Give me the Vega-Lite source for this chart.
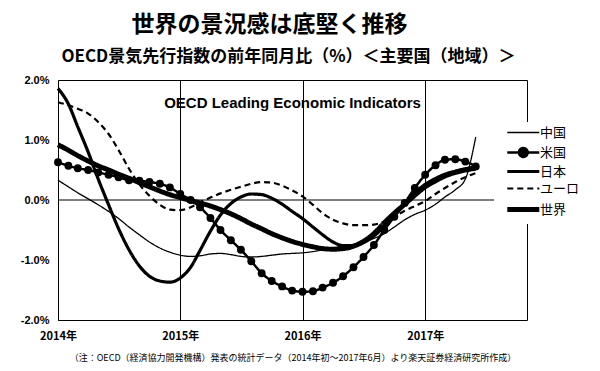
{
  "$schema": "https://vega.github.io/schema/vega-lite/v6.json",
  "width": 469,
  "height": 240,
  "autosize": {"type": "none"},
  "padding": {"left": 58, "top": 80, "right": 73, "bottom": 51},
  "background": "white",
  "config": {"view": {"stroke": "black", "strokeWidth": 1}},
  "title": {
    "text": "世界の景況感は底堅く推移",
    "anchor": "middle",
    "dx": -23,
    "font": "Noto Sans CJK JP",
    "fontSize": 23,
    "fontWeight": "bold",
    "color": "black",
    "offset": 10
  },
  "data": {"values": [
    {"date":"2014-01-01","country":"中国","value":0.33},{"date":"2014-02-01","country":"中国","value":0.22},{"date":"2014-03-01","country":"中国","value":0.12},{"date":"2014-04-01","country":"中国","value":0.02},{"date":"2014-05-01","country":"中国","value":-0.08},{"date":"2014-06-01","country":"中国","value":-0.19},{"date":"2014-07-01","country":"中国","value":-0.31},{"date":"2014-08-01","country":"中国","value":-0.45},{"date":"2014-09-01","country":"中国","value":-0.58},{"date":"2014-10-01","country":"中国","value":-0.7},{"date":"2014-11-01","country":"中国","value":-0.8},{"date":"2014-12-01","country":"中国","value":-0.87},
    {"date":"2015-01-01","country":"中国","value":-0.92},{"date":"2015-02-01","country":"中国","value":-0.94},{"date":"2015-03-01","country":"中国","value":-0.93},{"date":"2015-04-01","country":"中国","value":-0.9},{"date":"2015-05-01","country":"中国","value":-0.89},{"date":"2015-06-01","country":"中国","value":-0.91},{"date":"2015-07-01","country":"中国","value":-0.94},{"date":"2015-08-01","country":"中国","value":-0.95},{"date":"2015-09-01","country":"中国","value":-0.94},{"date":"2015-10-01","country":"中国","value":-0.92},{"date":"2015-11-01","country":"中国","value":-0.9},{"date":"2015-12-01","country":"中国","value":-0.89},
    {"date":"2016-01-01","country":"中国","value":-0.88},{"date":"2016-02-01","country":"中国","value":-0.86},{"date":"2016-03-01","country":"中国","value":-0.83},{"date":"2016-04-01","country":"中国","value":-0.8},{"date":"2016-05-01","country":"中国","value":-0.77},{"date":"2016-06-01","country":"中国","value":-0.74},{"date":"2016-07-01","country":"中国","value":-0.7},{"date":"2016-08-01","country":"中国","value":-0.64},{"date":"2016-09-01","country":"中国","value":-0.56},{"date":"2016-10-01","country":"中国","value":-0.45},{"date":"2016-11-01","country":"中国","value":-0.33},{"date":"2016-12-01","country":"中国","value":-0.24},
    {"date":"2017-01-01","country":"中国","value":-0.17},{"date":"2017-02-01","country":"中国","value":-0.07},{"date":"2017-03-01","country":"中国","value":0.05},{"date":"2017-04-01","country":"中国","value":0.17},{"date":"2017-05-01","country":"中国","value":0.35},{"date":"2017-06-01","country":"中国","value":1.05},
    {"date":"2014-01-01","country":"米国","value":0.63},{"date":"2014-02-01","country":"米国","value":0.57},{"date":"2014-03-01","country":"米国","value":0.53},{"date":"2014-04-01","country":"米国","value":0.5},{"date":"2014-05-01","country":"米国","value":0.46},{"date":"2014-06-01","country":"米国","value":0.42},{"date":"2014-07-01","country":"米国","value":0.38},{"date":"2014-08-01","country":"米国","value":0.33},{"date":"2014-09-01","country":"米国","value":0.32},{"date":"2014-10-01","country":"米国","value":0.3},{"date":"2014-11-01","country":"米国","value":0.27},{"date":"2014-12-01","country":"米国","value":0.21},
    {"date":"2015-01-01","country":"米国","value":0.1},{"date":"2015-02-01","country":"米国","value":0.0},{"date":"2015-03-01","country":"米国","value":-0.12},{"date":"2015-04-01","country":"米国","value":-0.3},{"date":"2015-05-01","country":"米国","value":-0.5},{"date":"2015-06-01","country":"米国","value":-0.67},{"date":"2015-07-01","country":"米国","value":-0.83},{"date":"2015-08-01","country":"米国","value":-1.02},{"date":"2015-09-01","country":"米国","value":-1.22},{"date":"2015-10-01","country":"米国","value":-1.35},{"date":"2015-11-01","country":"米国","value":-1.44},{"date":"2015-12-01","country":"米国","value":-1.51},
    {"date":"2016-01-01","country":"米国","value":-1.53},{"date":"2016-02-01","country":"米国","value":-1.52},{"date":"2016-03-01","country":"米国","value":-1.46},{"date":"2016-04-01","country":"米国","value":-1.38},{"date":"2016-05-01","country":"米国","value":-1.27},{"date":"2016-06-01","country":"米国","value":-1.12},{"date":"2016-07-01","country":"米国","value":-0.95},{"date":"2016-08-01","country":"米国","value":-0.75},{"date":"2016-09-01","country":"米国","value":-0.5},{"date":"2016-10-01","country":"米国","value":-0.28},{"date":"2016-11-01","country":"米国","value":-0.05},{"date":"2016-12-01","country":"米国","value":0.2},
    {"date":"2017-01-01","country":"米国","value":0.42},{"date":"2017-02-01","country":"米国","value":0.58},{"date":"2017-03-01","country":"米国","value":0.67},{"date":"2017-04-01","country":"米国","value":0.68},{"date":"2017-05-01","country":"米国","value":0.64},{"date":"2017-06-01","country":"米国","value":0.56},
    {"date":"2014-01-01","country":"日本","value":1.86},{"date":"2014-02-01","country":"日本","value":1.6},{"date":"2014-03-01","country":"日本","value":1.22},{"date":"2014-04-01","country":"日本","value":0.8},{"date":"2014-05-01","country":"日本","value":0.35},{"date":"2014-06-01","country":"日本","value":-0.08},{"date":"2014-07-01","country":"日本","value":-0.48},{"date":"2014-08-01","country":"日本","value":-0.83},{"date":"2014-09-01","country":"日本","value":-1.1},{"date":"2014-10-01","country":"日本","value":-1.27},{"date":"2014-11-01","country":"日本","value":-1.35},{"date":"2014-12-01","country":"日本","value":-1.37},
    {"date":"2015-01-01","country":"日本","value":-1.3},{"date":"2015-02-01","country":"日本","value":-1.12},{"date":"2015-03-01","country":"日本","value":-0.84},{"date":"2015-04-01","country":"日本","value":-0.52},{"date":"2015-05-01","country":"日本","value":-0.25},{"date":"2015-06-01","country":"日本","value":-0.06},{"date":"2015-07-01","country":"日本","value":0.05},{"date":"2015-08-01","country":"日本","value":0.1},{"date":"2015-09-01","country":"日本","value":0.09},{"date":"2015-10-01","country":"日本","value":0.03},{"date":"2015-11-01","country":"日本","value":-0.07},{"date":"2015-12-01","country":"日本","value":-0.19},
    {"date":"2016-01-01","country":"日本","value":-0.31},{"date":"2016-02-01","country":"日本","value":-0.45},{"date":"2016-03-01","country":"日本","value":-0.58},{"date":"2016-04-01","country":"日本","value":-0.7},{"date":"2016-05-01","country":"日本","value":-0.76},{"date":"2016-06-01","country":"日本","value":-0.76},{"date":"2016-07-01","country":"日本","value":-0.71},{"date":"2016-08-01","country":"日本","value":-0.6},{"date":"2016-09-01","country":"日本","value":-0.44},{"date":"2016-10-01","country":"日本","value":-0.26},{"date":"2016-11-01","country":"日本","value":-0.07},{"date":"2016-12-01","country":"日本","value":0.12},
    {"date":"2017-01-01","country":"日本","value":0.26},{"date":"2017-02-01","country":"日本","value":0.36},{"date":"2017-03-01","country":"日本","value":0.43},{"date":"2017-04-01","country":"日本","value":0.48},{"date":"2017-05-01","country":"日本","value":0.52},{"date":"2017-06-01","country":"日本","value":0.55},
    {"date":"2014-01-01","country":"ユーロ","value":1.63},{"date":"2014-02-01","country":"ユーロ","value":1.58},{"date":"2014-03-01","country":"ユーロ","value":1.52},{"date":"2014-04-01","country":"ユーロ","value":1.44},{"date":"2014-05-01","country":"ユーロ","value":1.3},{"date":"2014-06-01","country":"ユーロ","value":1.1},{"date":"2014-07-01","country":"ユーロ","value":0.83},{"date":"2014-08-01","country":"ユーロ","value":0.52},{"date":"2014-09-01","country":"ユーロ","value":0.26},{"date":"2014-10-01","country":"ユーロ","value":0.07},{"date":"2014-11-01","country":"ユーロ","value":-0.08},{"date":"2014-12-01","country":"ユーロ","value":-0.16},
    {"date":"2015-01-01","country":"ユーロ","value":-0.17},{"date":"2015-02-01","country":"ユーロ","value":-0.12},{"date":"2015-03-01","country":"ユーロ","value":-0.04},{"date":"2015-04-01","country":"ユーロ","value":0.04},{"date":"2015-05-01","country":"ユーロ","value":0.11},{"date":"2015-06-01","country":"ユーロ","value":0.17},{"date":"2015-07-01","country":"ユーロ","value":0.22},{"date":"2015-08-01","country":"ユーロ","value":0.27},{"date":"2015-09-01","country":"ユーロ","value":0.3},{"date":"2015-10-01","country":"ユーロ","value":0.29},{"date":"2015-11-01","country":"ユーロ","value":0.24},{"date":"2015-12-01","country":"ユーロ","value":0.16},
    {"date":"2016-01-01","country":"ユーロ","value":0.06},{"date":"2016-02-01","country":"ユーロ","value":-0.08},{"date":"2016-03-01","country":"ユーロ","value":-0.22},{"date":"2016-04-01","country":"ユーロ","value":-0.33},{"date":"2016-05-01","country":"ユーロ","value":-0.39},{"date":"2016-06-01","country":"ユーロ","value":-0.42},{"date":"2016-07-01","country":"ユーロ","value":-0.42},{"date":"2016-08-01","country":"ユーロ","value":-0.41},{"date":"2016-09-01","country":"ユーロ","value":-0.36},{"date":"2016-10-01","country":"ユーロ","value":-0.28},{"date":"2016-11-01","country":"ユーロ","value":-0.18},{"date":"2016-12-01","country":"ユーロ","value":-0.1},
    {"date":"2017-01-01","country":"ユーロ","value":-0.02},{"date":"2017-02-01","country":"ユーロ","value":0.1},{"date":"2017-03-01","country":"ユーロ","value":0.2},{"date":"2017-04-01","country":"ユーロ","value":0.3},{"date":"2017-05-01","country":"ユーロ","value":0.38},{"date":"2017-06-01","country":"ユーロ","value":0.45},
    {"date":"2014-01-01","country":"世界","value":0.92},{"date":"2014-02-01","country":"世界","value":0.83},{"date":"2014-03-01","country":"世界","value":0.74},{"date":"2014-04-01","country":"世界","value":0.65},{"date":"2014-05-01","country":"世界","value":0.57},{"date":"2014-06-01","country":"世界","value":0.5},{"date":"2014-07-01","country":"世界","value":0.43},{"date":"2014-08-01","country":"世界","value":0.36},{"date":"2014-09-01","country":"世界","value":0.29},{"date":"2014-10-01","country":"世界","value":0.22},{"date":"2014-11-01","country":"世界","value":0.15},{"date":"2014-12-01","country":"世界","value":0.09},
    {"date":"2015-01-01","country":"世界","value":0.04},{"date":"2015-02-01","country":"世界","value":-0.01},{"date":"2015-03-01","country":"世界","value":-0.05},{"date":"2015-04-01","country":"世界","value":-0.1},{"date":"2015-05-01","country":"世界","value":-0.16},{"date":"2015-06-01","country":"世界","value":-0.23},{"date":"2015-07-01","country":"世界","value":-0.31},{"date":"2015-08-01","country":"世界","value":-0.4},{"date":"2015-09-01","country":"世界","value":-0.48},{"date":"2015-10-01","country":"世界","value":-0.56},{"date":"2015-11-01","country":"世界","value":-0.63},{"date":"2015-12-01","country":"世界","value":-0.69},
    {"date":"2016-01-01","country":"世界","value":-0.74},{"date":"2016-02-01","country":"世界","value":-0.78},{"date":"2016-03-01","country":"世界","value":-0.81},{"date":"2016-04-01","country":"世界","value":-0.82},{"date":"2016-05-01","country":"世界","value":-0.81},{"date":"2016-06-01","country":"世界","value":-0.77},{"date":"2016-07-01","country":"世界","value":-0.69},{"date":"2016-08-01","country":"世界","value":-0.56},{"date":"2016-09-01","country":"世界","value":-0.38},{"date":"2016-10-01","country":"世界","value":-0.22},{"date":"2016-11-01","country":"世界","value":-0.07},{"date":"2016-12-01","country":"世界","value":0.08},
    {"date":"2017-01-01","country":"世界","value":0.22},{"date":"2017-02-01","country":"世界","value":0.32},{"date":"2017-03-01","country":"世界","value":0.4},{"date":"2017-04-01","country":"世界","value":0.46},{"date":"2017-05-01","country":"世界","value":0.5},{"date":"2017-06-01","country":"世界","value":0.53}
  ]},
  "layer": [
    {
      "mark": {"type": "line", "interpolate": "monotone", "color": "black"},
      "encoding": {
        "x": {
          "field": "date", "type": "temporal",
          "scale": {"type": "utc", "domain": [{"year": 2014, "month": 1, "date": 1, "utc": true}, {"year": 2017, "month": 11, "date": 1, "utc": true}]},
          "axis": {
            "values": [{"year": 2014, "month": 1, "date": 1, "utc": true}, {"year": 2015, "month": 1, "date": 1, "utc": true}, {"year": 2016, "month": 1, "date": 1, "utc": true}, {"year": 2017, "month": 1, "date": 1, "utc": true}],
            "format": "%Y年",
            "grid": true, "gridColor": "black", "gridOpacity": 1, "gridWidth": 1,
            "ticks": false, "domain": false,
            "labelFont": "Noto Sans CJK JP", "labelFontWeight": "bold", "labelFontSize": 11, "labelColor": "black",
            "labelPadding": 10, "labelFlush": false,
            "title": "（注：OECD（経済協力開発機構）発表の統計データ（2014年初～2017年6月）より楽天証券経済研究所作成）",
            "titleFont": "Noto Sans CJK JP", "titleFontSize": 9, "titleFontWeight": "normal", "titleColor": "black",
            "titleY": 40, "titleBaseline": "alphabetic"
          }
        },
        "y": {
          "field": "value", "type": "quantitative",
          "scale": {"domain": [-2, 2], "nice": false, "zero": false},
          "axis": {
            "values": [-2, -1.5, -1, -0.5, 0, 0.5, 1, 1.5, 2],
            "labelExpr": "(datum.value < 0 ? '-' : '') + format(abs(datum.value), '.1f') + '%'",
            "labelOverlap": false,
            "grid": false, "ticks": false, "domain": false,
            "labelFont": "Liberation Sans", "labelFontWeight": "bold", "labelFontSize": 11, "labelColor": "black",
            "labelPadding": 9,
            "title": "OECD景気先行指数の前年同月比（%）＜主要国（地域）＞",
            "titleAngle": 0, "titleAlign": "center", "titleBaseline": "alphabetic",
            "titleX": 230, "titleY": -19,
            "titleFont": "Noto Sans CJK JP", "titleFontSize": 17, "titleFontWeight": "bold", "titleColor": "black"
          }
        },
        "strokeWidth": {
          "field": "country", "type": "nominal",
          "scale": {"type": "ordinal", "domain": ["中国", "米国", "日本", "ユーロ", "世界"], "range": [1.3, 2.5, 3.2, 2.2, 5]},
          "legend": {
            "orient": "none", "legendX": 436, "legendY": 42, "title": null,
            "fillColor": "white", "padding": 4,
            "symbolType": "M0.7,0H8.7", "symbolSize": 64,
            "symbolStrokeColor": "black", "symbolFillColor": "black",
            "labelFont": "Noto Sans CJK JP", "labelFontSize": 13, "labelColor": "black",
            "labelOffset": 29, "rowPadding": 3,
            "encode": {"symbols": {"update": {
              "shape": {"signal": "datum.value === '米国' ? 'M0.7,0H8.7M5.8,0A1.1,1.1 0 1 1 3.6,0A1.1,1.1 0 1 1 5.8,0Z' : 'M0.7,0H8.7'"},
              "fill": {"value": "black"},
              "stroke": {"value": "black"}
            }}}
          }
        },
        "strokeDash": {
          "field": "country", "type": "nominal",
          "scale": {"domain": ["中国", "米国", "日本", "ユーロ", "世界"], "range": [[1, 0], [1, 0], [1, 0], [6, 4], [1, 0]]},
          "legend": {
            "orient": "none", "legendX": 436, "legendY": 42, "title": null,
            "fillColor": "white", "padding": 4,
            "symbolType": "M0.7,0H8.7", "symbolSize": 64,
            "symbolStrokeColor": "black", "symbolFillColor": "black",
            "labelFont": "Noto Sans CJK JP", "labelFontSize": 13, "labelColor": "black",
            "labelOffset": 29, "rowPadding": 3,
            "encode": {"symbols": {"update": {
              "shape": {"signal": "datum.value === '米国' ? 'M0.7,0H8.7M5.8,0A1.1,1.1 0 1 1 3.6,0A1.1,1.1 0 1 1 5.8,0Z' : 'M0.7,0H8.7'"},
              "fill": {"value": "black"},
              "stroke": {"value": "black"}
            }}}
          }
        }
      }
    },
    {
      "data": {"values": [{"level": 0}]},
      "mark": {"type": "rule", "color": "black", "strokeWidth": 1},
      "encoding": {"y": {"field": "level", "type": "quantitative"}}
    },
    {
      "transform": [{"filter": "datum.country === '米国'"}],
      "mark": {"type": "point", "filled": true, "color": "black", "size": 62, "opacity": 1},
      "encoding": {
        "x": {"field": "date", "type": "temporal"},
        "y": {"field": "value", "type": "quantitative"}
      }
    },
    {
      "data": {"values": [{"label": "OECD Leading Economic Indicators", "date": "2015-12-02", "value": 1.62}]},
      "mark": {"type": "text", "font": "Liberation Sans", "fontWeight": "bold", "fontSize": 15, "color": "black", "align": "center", "baseline": "middle"},
      "encoding": {
        "x": {"field": "date", "type": "temporal"},
        "y": {"field": "value", "type": "quantitative"},
        "text": {"field": "label"}
      }
    }
  ]
}
